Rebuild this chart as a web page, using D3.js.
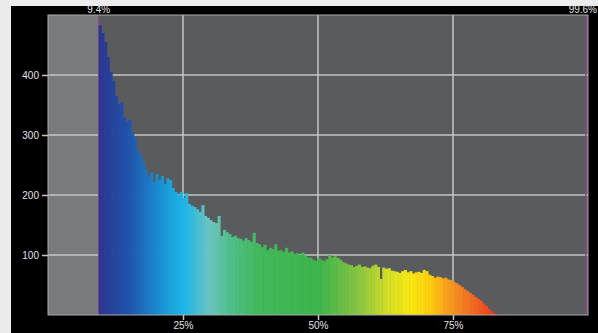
<!DOCTYPE html>
<html>
<head>
<meta charset="utf-8">
<script src="https://cdn.jsdelivr.net/npm/d3@7"></script>
<style>
  html, body { margin: 0; padding: 0; background: #ececec; }
  svg { display: block; }
  text { font-family: "Liberation Sans", Arial, sans-serif; }
</style>
</head>
<body>
<div id="chart"></div>
<script>
// histogram counts, 0.5% bins starting at the 9.4% clip point
const binStart = 9.4;
const binWidth = 0.5;
const counts = [
  483, 470, 455, 430, 405, 390, 365, 352, 355, 330,
  322, 325, 305, 295, 275, 268, 255, 242, 230, 238,
  222, 235, 225, 232, 218, 228, 225, 212, 205, 200,
  205, 195, 203, 185, 182, 180, 176, 172, 183, 165,
  162, 158, 155, 153, 165, 132, 142, 138, 135, 130,
  132, 128, 127, 124, 128, 125, 122, 137, 120, 118,
  113, 117, 108, 112, 110, 118, 107, 108, 105, 112,
  104, 106, 102, 103, 100, 104, 99, 96, 95, 92,
  90, 95, 92, 90, 93, 100, 96, 98, 95, 92,
  88, 86, 84, 83, 80, 82, 84, 80, 81, 79,
  78, 82, 84, 80, 60, 79, 77, 78, 74, 73,
  72, 70, 73, 75, 71, 73, 69, 71, 72, 70,
  75, 73, 67, 65, 62, 64, 63, 61, 62, 59,
  58, 55, 53, 50, 47, 43, 40, 37, 34, 30,
  27, 24, 19, 15, 10, 6, 3, 1
];
const yTicks = [100, 200, 300, 400];
const xTicks = [25, 50, 75];
const clipLow = 9.4;
const clipHigh = 99.6;

const W = 598, H = 333;
const plot = { left: 48, right: 588, top: 15, bottom: 315 };

const x = d3.scaleLinear().domain([0, 100]).range([plot.left, plot.right]);
const y = d3.scaleLinear().domain([0, 500]).range([plot.bottom, plot.top]);

const svg = d3.select("#chart").append("svg")
  .attr("width", W).attr("height", H);

// black panel
svg.append("rect").attr("x", 11).attr("y", 6).attr("width", W - 11).attr("height", H - 6)
  .attr("fill", "#000");

const defs = svg.append("defs");
const spectrum = defs.append("linearGradient")
  .attr("id", "spectrum")
  .attr("gradientUnits", "userSpaceOnUse")
  .attr("x1", x(clipLow)).attr("x2", x(binStart + counts.length * binWidth))
  .attr("y1", 0).attr("y2", 0);
const stops = [
  [0.000, "#2a3590"], [0.078, "#1f55ad"], [0.128, "#1b7cc8"], [0.178, "#18a2de"],
  [0.215, "#1fb6e8"], [0.278, "#6cc6c0"], [0.328, "#4fbf8a"], [0.403, "#42b95a"],
  [0.553, "#3db54a"], [0.653, "#8cc63f"], [0.728, "#d6e024"], [0.778, "#f8e812"],
  [0.828, "#fdd00c"], [0.865, "#f8a61b"], [0.915, "#f47a21"], [1.000, "#ec3323"]
];
spectrum.selectAll("stop").data(stops).join("stop")
  .attr("offset", d => d[0]).attr("stop-color", d => d[1]);

// plot background: clipped region lighter
svg.append("rect").attr("x", plot.left).attr("y", plot.top)
  .attr("width", plot.right - plot.left).attr("height", plot.bottom - plot.top)
  .attr("fill", "#595b5d");
svg.append("rect").attr("x", plot.left).attr("y", plot.top)
  .attr("width", x(clipLow) - plot.left).attr("height", plot.bottom - plot.top)
  .attr("fill", "#797a7c");

// grid
const g = svg.append("g");
g.selectAll("line.hgrid").data(yTicks).join("line")
  .attr("class", "hgrid")
  .attr("x1", plot.left).attr("x2", plot.right)
  .attr("y1", d => y(d)).attr("y2", d => y(d))
  .attr("stroke", "#c4c4c4").attr("stroke-width", 1.5);
g.selectAll("line.vgrid").data(xTicks).join("line")
  .attr("class", "vgrid")
  .attr("x1", d => x(d)).attr("x2", d => x(d))
  .attr("y1", plot.top).attr("y2", plot.bottom)
  .attr("stroke", "#c4c4c4").attr("stroke-width", 1.5);

// clip markers
g.selectAll("line.clip").data([clipLow, clipHigh]).join("line")
  .attr("class", "clip")
  .attr("x1", d => x(d)).attr("x2", d => x(d))
  .attr("y1", plot.top).attr("y2", plot.bottom)
  .attr("stroke", "#8a4a86").attr("stroke-width", 1.5);

// histogram bars
const bw = x(binWidth) - x(0);
svg.append("g").selectAll("rect").data(counts).join("rect")
  .attr("x", (d, i) => x(binStart + i * binWidth))
  .attr("width", bw + 0.4)
  .attr("y", d => y(d))
  .attr("height", d => y(0) - y(d))
  .attr("fill", "url(#spectrum)");

// plot border
svg.append("rect").attr("x", plot.left).attr("y", plot.top)
  .attr("width", plot.right - plot.left).attr("height", plot.bottom - plot.top)
  .attr("fill", "none").attr("stroke", "#a9a9a9").attr("stroke-width", 1);

// axes
const yAxis = svg.append("g")
  .attr("transform", `translate(${plot.left},0)`)
  .call(d3.axisLeft(y).tickValues(yTicks).tickSize(6).tickPadding(3));
const xAxis = svg.append("g")
  .attr("transform", `translate(0,${plot.bottom})`)
  .call(d3.axisBottom(x).tickValues(xTicks).tickSize(5).tickPadding(2)
    .tickFormat(d => d + "%"));
[yAxis, xAxis].forEach(a => {
  a.select(".domain").remove();
  a.selectAll("line").attr("stroke", "#c4c4c4").attr("stroke-width", 1.5);
  a.selectAll("text").attr("fill", "#e2e2e2").attr("font-size", 10);
});

// clip labels on top
svg.append("text").attr("x", x(clipLow)).attr("y", 13)
  .attr("text-anchor", "middle").attr("font-size", 10).attr("fill", "#e2e2e2")
  .text(clipLow + "%");
svg.append("text").attr("x", W - 1).attr("y", 13)
  .attr("text-anchor", "end").attr("font-size", 10).attr("fill", "#e2e2e2")
  .text(clipHigh + "%");
</script>
</body>
</html>
